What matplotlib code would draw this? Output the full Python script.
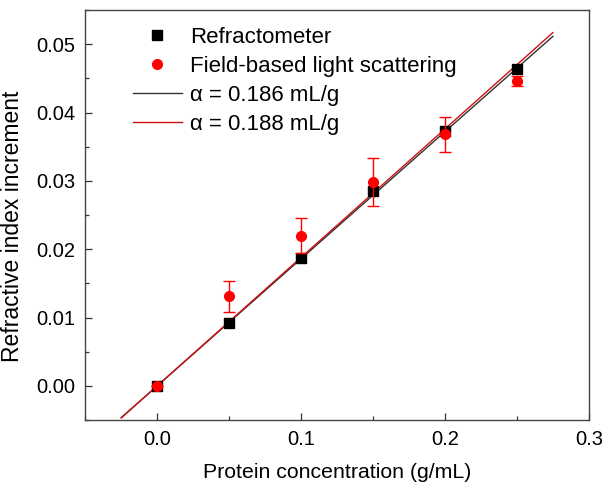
import matplotlib
matplotlib.use("Agg")
import matplotlib.pyplot as plt
from matplotlib.ticker import MultipleLocator
from matplotlib.lines import Line2D
import numpy as np

plt.rcParams['font.family'] = ['Liberation Sans', 'DejaVu Sans']

conc = [0.0, 0.05, 0.10, 0.15, 0.20, 0.25]
refractometer = [0.0, 0.0092, 0.0187, 0.0285, 0.0373, 0.0464]
scattering = [0.0, 0.0131, 0.0220, 0.0298, 0.0368, 0.0446]
scattering_err = [0.0, 0.0023, 0.0025, 0.0035, 0.0026, 0.0007]
alpha_black = 0.186
alpha_red = 0.188
fit_range = [-0.025, 0.275]

fig = plt.figure(figsize=(6.09, 4.91), dpi=100)
ax = fig.add_axes([0.140, 0.1446, 0.827, 0.835])

xf = np.array(fit_range)
ax.plot(xf, alpha_black * xf, color='#333333', lw=1.0, zorder=2)
ax.plot(xf, alpha_red * xf, color='#d01010', lw=1.0, zorder=2)

ax.plot(conc, refractometer, linestyle='none', marker='s', ms=6.5,
        color='black', zorder=3)
ax.errorbar(conc, scattering, yerr=scattering_err, linestyle='none',
            marker='o', ms=7, color='red', ecolor='red', elinewidth=1,
            capsize=4, capthick=1, zorder=4)

ax.set_xlim(-0.05, 0.3)
ax.set_ylim(-0.005, 0.055)
ax.xaxis.set_major_locator(MultipleLocator(0.1))
ax.xaxis.set_minor_locator(MultipleLocator(0.05))
ax.yaxis.set_major_locator(MultipleLocator(0.01))
ax.yaxis.set_minor_locator(MultipleLocator(0.005))
ax.xaxis.set_major_formatter(matplotlib.ticker.FormatStrFormatter('%.1f'))
ax.yaxis.set_major_formatter(matplotlib.ticker.FormatStrFormatter('%.2f'))
ax.tick_params(which='major', direction='in', length=5, width=0.9,
               labelsize=14.5, colors='#333333', labelcolor='black', pad=7)
ax.tick_params(which='minor', direction='in', length=3, width=0.9,
               colors='#333333')
for s in ax.spines.values():
    s.set_color('#444444')
    s.set_linewidth(1.0)

ax.set_xlabel('Protein concentration (g/mL)', fontsize=15.3, labelpad=10)
ax.set_ylabel('Refractive index increment', fontsize=16.5)
ax.yaxis.set_label_coords(-0.122, 0.473)

handles = [
    Line2D([], [], linestyle='none', marker='s', ms=6.5, color='black'),
    Line2D([], [], linestyle='none', marker='o', ms=7, color='red'),
    Line2D([], [], color='#333333', lw=1.0),
    Line2D([], [], color='#d01010', lw=1.0),
]
labels = ['Refractometer', 'Field-based light scattering',
          'α = 0.186 mL/g', 'α = 0.188 mL/g']
ax.legend(handles, labels, loc='upper left', bbox_to_anchor=(0.077, 0.98),
          frameon=False, fontsize=16, handlelength=2.2, handletextpad=0.36,
          labelspacing=0.36, borderaxespad=0.0)

fig.savefig('out.png', dpi=100)
